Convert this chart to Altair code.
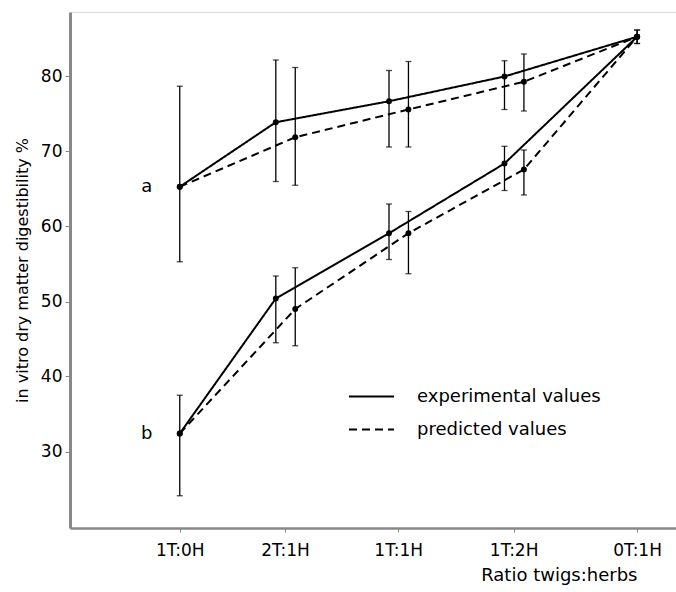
import altair as alt
import pandas as pd

cats = ["1T:0H", "2T:1H", "1T:1H", "1T:2H", "0T:1H"]
cat_pos = [1.0, 1.92, 2.91, 3.92, 5.0]

a_exp = [65.3, 73.9, 76.7, 80.0, 85.3]
a_exp_lo = [55.3, 66.0, 70.6, 75.6, 84.4]
a_exp_hi = [78.7, 82.2, 80.8, 82.1, 86.2]
a_pred = [65.3, 71.9, 75.6, 79.3, 85.3]
a_pred_lo = [None, 65.5, 70.6, 75.4, None]
a_pred_hi = [None, 81.2, 82.0, 83.0, None]

b_exp = [32.4, 50.4, 59.1, 68.4, 85.3]
b_exp_lo = [24.1, 44.5, 55.6, 64.8, 84.4]
b_exp_hi = [37.5, 53.4, 63.0, 70.7, 86.2]
b_pred = [32.4, 49.0, 59.1, 67.6, 85.3]
b_pred_lo = [None, 44.1, 53.7, 64.2, None]
b_pred_hi = [None, 54.5, 62.0, 70.2, None]

types = ["experimental values", "predicted values"]
series_labels = ["a", "b"]

# horizontal offset of experimental / predicted points at mixed ratios (layout)
OFFSET = {"experimental values": -0.08, "predicted values": 0.09}

rows = []
sets = {
    ("a", types[0]): (a_exp, a_exp_lo, a_exp_hi),
    ("a", types[1]): (a_pred, a_pred_lo, a_pred_hi),
    ("b", types[0]): (b_exp, b_exp_lo, b_exp_hi),
    ("b", types[1]): (b_pred, b_pred_lo, b_pred_hi),
}
for (s, t), (vals, lo, hi) in sets.items():
    for i, c in enumerate(cats):
        off = 0.0 if i in (0, len(cats) - 1) else OFFSET[t]
        rows.append({"series": s, "type": t, "cat": c, "x": cat_pos[i] + off,
                     "v": vals[i], "lo": lo[i], "hi": hi[i], "key": s + t})
df = pd.DataFrame(rows)
err = df.dropna(subset=["lo", "hi"])

lab = pd.DataFrame({"label": series_labels, "x": [cat_pos[0]] * 2,
                    "v": [a_exp[0], b_exp[0]]})

label_expr = "".join(f"datum.value == {p} ? '{c}' : " for p, c in zip(cat_pos, cats)) + "''"

FONT = "DejaVu Sans"
xscale = alt.Scale(domain=[0.04, 5.34], nice=False, zero=False)
yscale = alt.Scale(domain=[19.8, 88.6], nice=False, zero=False)

xaxis = alt.Axis(values=cat_pos, labelExpr=label_expr, title="Ratio twigs:herbs",
                 grid=False, tickSize=4, labelPadding=10, labelFontSize=17,
                 titleFontSize=18, titleFontWeight="normal", titleX=567,
                 titleAlign="right", titleY=52, titleBaseline="alphabetic",
                 domainWidth=2.5, labelFont=FONT, titleFont=FONT)
yaxis = alt.Axis(values=[30, 40, 50, 60, 70, 80], title="in vitro dry matter digestibility %",
                 grid=False, tickSize=5, labelPadding=3, labelFontSize=17,
                 titleFontSize=16, titleFontWeight="normal", titlePadding=10,
                 domainWidth=3, labelFont=FONT, titleFont=FONT)

X = alt.X("x:Q", scale=xscale, axis=xaxis)
Y = alt.Y("v:Q", scale=yscale, axis=yaxis)

lines = alt.Chart(df).mark_line(color="black", strokeWidth=2).encode(
    x=X, y=Y, detail="key:N",
    strokeDash=alt.StrokeDash("type:N", scale=alt.Scale(domain=types, range=[[1, 0], [8, 5]]),
                              legend=alt.Legend(title=None, orient="none", legendX=278, legendY=361,
                                                symbolType="stroke", symbolSize=2025,
                                                symbolStrokeWidth=2, symbolStrokeColor="black",
                                                labelFontSize=18, labelFont=FONT, labelOffset=22,
                                                labelLimit=400, rowPadding=-7, labelColor="black")),
)
points = alt.Chart(df).mark_circle(color="black", size=35, opacity=1).encode(x=X, y=Y)
bars = alt.Chart(err).mark_errorbar(ticks=alt.MarkConfig(size=6), thickness=1.3, color="black").encode(
    x=X, y=alt.Y("lo:Q", scale=yscale, axis=yaxis), y2="hi:Q")
texts = alt.Chart(lab).mark_text(fontSize=18, font=FONT, dx=-33, color="black").encode(
    x=X, y=Y, text="label:N")

chart = alt.layer(bars, lines, points, texts).properties(
    width=606, height=516,
    autosize=alt.AutoSizeParams(type="none"),
    padding={"left": 70, "top": 12, "right": 0, "bottom": 64},
).configure_view(stroke=None).configure_axis(
    domainColor="black", tickColor="black", labelColor="black", titleColor="black"
).configure(background="white")

chart.save("out.html", embed_options={"renderer": "svg", "actions": False})
